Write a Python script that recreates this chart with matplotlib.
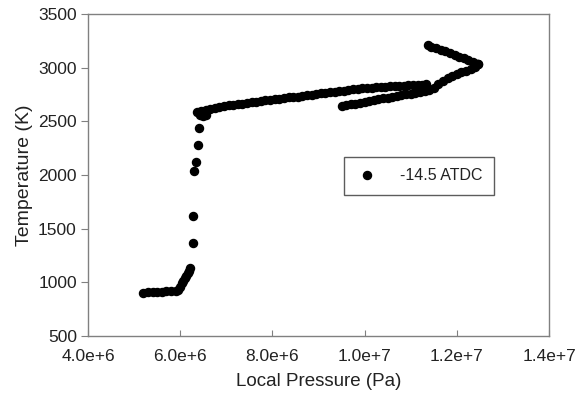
import matplotlib
matplotlib.use("Agg")
import matplotlib.pyplot as plt
from matplotlib.ticker import FuncFormatter

plt.rcParams["font.family"] = ["Liberation Sans", "DejaVu Sans"]

# local pressure (Pa, in 1e6) and temperature (K)
p_low = [5.20, 5.30, 5.40, 5.50, 5.60, 5.70, 5.80, 5.90, 5.95, 6.00, 6.03, 6.07,
         6.10, 6.13, 6.16, 6.19, 6.21]
t_low = [905, 906, 908, 910, 913, 915, 918, 922, 930, 960, 990, 1015,
         1040, 1060, 1085, 1110, 1135]

p_rise = [6.27, 6.27, 6.31, 6.34, 6.38, 6.41, 6.42, 6.50, 6.57, 6.47]
t_rise = [1364, 1618, 2040, 2118, 2280, 2435, 2560, 2545, 2558, 2575]

p_upper = [6.36, 6.45, 6.55, 6.65, 6.75, 6.85, 6.95, 7.05, 7.15, 7.25, 7.35, 7.45,
           7.55, 7.65, 7.75, 7.85, 7.95, 8.05, 8.15, 8.25, 8.35, 8.45, 8.55, 8.65,
           8.75, 8.85, 8.95, 9.05, 9.15, 9.25, 9.35, 9.45, 9.55, 9.65, 9.75, 9.85,
           9.95, 10.05, 10.15, 10.25, 10.35, 10.45, 10.55, 10.65, 10.75, 10.85,
           10.95, 11.05, 11.15, 11.25, 11.33]
t_upper = [2590, 2600, 2607, 2615, 2622, 2633, 2643, 2648, 2655, 2660, 2666, 2670,
           2677, 2683, 2690, 2695, 2700, 2706, 2712, 2717, 2722, 2726, 2731, 2736,
           2742, 2748, 2753, 2760, 2766, 2772, 2777, 2782, 2786, 2792, 2798, 2803,
           2808, 2812, 2815, 2817, 2820, 2823, 2826, 2828, 2830, 2832,
           2834, 2836, 2838, 2842, 2848]

p_return = [9.50, 9.60, 9.70, 9.80, 9.90, 10.0, 10.1, 10.2, 10.3, 10.4, 10.5, 10.6,
            10.7, 10.8, 10.9, 11.0, 11.1, 11.2, 11.3, 11.4, 11.5, 11.6, 11.7, 11.8,
            11.9, 12.0, 12.1, 12.2, 12.3, 12.4, 12.45]
t_return = [2645, 2652, 2658, 2665, 2672, 2680, 2690, 2697, 2705, 2713, 2720, 2727,
            2735, 2742, 2750, 2757, 2765, 2772, 2780, 2790, 2815, 2845, 2877, 2903,
            2922, 2940, 2955, 2968, 2985, 3010, 3030]

p_top = [11.38, 11.45, 11.55, 11.65, 11.75, 11.85, 11.95, 12.05, 12.15, 12.25,
         12.35, 12.43, 12.47]
t_top = [3210, 3195, 3180, 3165, 3152, 3138, 3120, 3100, 3088, 3070,
         3052, 3038, 3035]

series_label = "-14.5 ATDC"
x_ticks = [4e6, 6e6, 8e6, 1e7, 1.2e7, 1.4e7]
y_ticks = [500, 1000, 1500, 2000, 2500, 3000, 3500]

pressure = [v * 1e6 for v in p_low + p_rise + p_upper + p_return + p_top]
temperature = t_low + t_rise + t_upper + t_return + t_top

fig = plt.figure(figsize=(5.8, 3.94), dpi=100)
ax = fig.add_axes([0.1517, 0.1472, 0.7949, 0.8173])

ax.plot(pressure, temperature, linestyle="none", marker="o", markersize=5.8,
        color="black", label=series_label)

ax.set_xlim(4e6, 1.4e7)
ax.set_ylim(500, 3500)
ax.set_xticks(x_ticks)
ax.set_yticks(y_ticks)


def sci(v, _):
    m, e = f"{v:.1e}".split("e")
    return f"{m}e+{int(e)}"


ax.xaxis.set_major_formatter(FuncFormatter(sci))

for s in ax.spines.values():
    s.set_color("#808080")
    s.set_linewidth(1.0)
ax.tick_params(axis="x", direction="in", length=4, color="#808080",
               labelsize=12.5, labelcolor="#222222", pad=9)
ax.tick_params(axis="y", direction="out", length=5, color="#808080",
               labelsize=12.5, labelcolor="#222222", pad=3)

ax.set_xlabel("Local Pressure (Pa)", fontsize=13.5, color="#222222", labelpad=7)
ax.set_ylabel("Temperature (K)", fontsize=14, color="#222222", labelpad=4)

leg = ax.legend(loc="center", bbox_to_anchor=(0.718, 0.497), fancybox=False,
                edgecolor="#333333", fontsize=11.5, handlelength=1.5,
                borderpad=0.7, handletextpad=1.3, borderaxespad=0)
leg.get_frame().set_linewidth(1.0)
for t in leg.get_texts():
    t.set_color("#222222")

fig.savefig("out.png", dpi=100)
